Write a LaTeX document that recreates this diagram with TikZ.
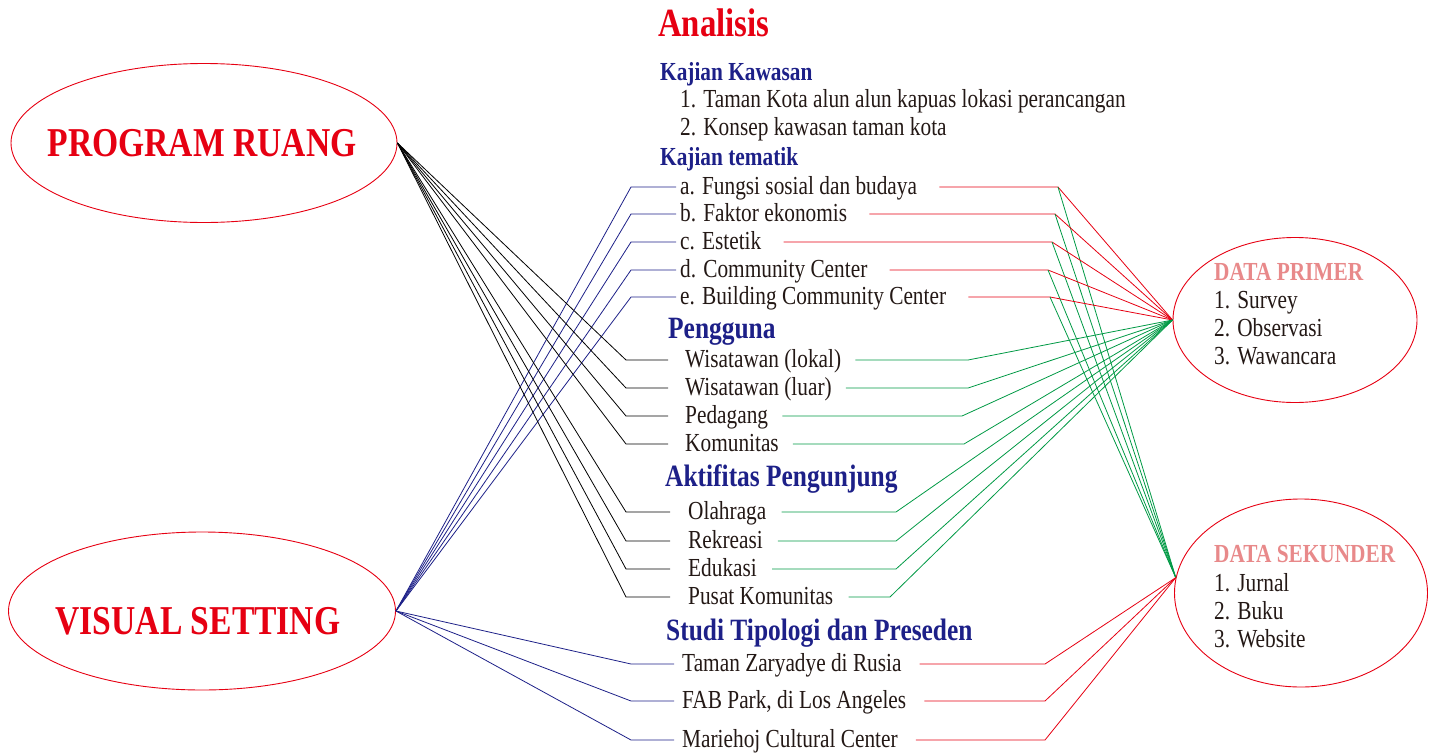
\documentclass[tikz,border=0pt]{standalone}
\usepackage{fontspec}
\setmainfont[FakeStretch=0.82]{Liberation Serif}
\usetikzlibrary{shapes}
\definecolor{merah}{HTML}{E60012}
\definecolor{biru}{HTML}{1D2088}
\definecolor{hijau}{HTML}{009944}
\definecolor{merahmuda}{HTML}{E8898A}
\definecolor{tinta}{HTML}{231815}

\begin{document}
\begin{tikzpicture}[x=1pt,y=-1pt,
	item/.style={anchor=west, text=tinta, inner xsep=4pt, inner ysep=2pt, text height=21pt, text depth=6.5pt, font=\fontsize{26}{28}\selectfont},
	baris/.style={anchor=base west, inner sep=0pt, text=tinta, font=\fontsize{26}{28}\selectfont},
	judul/.style={anchor=base west, inner sep=0pt, text=biru, font=\fontsize{26}{28}\selectfont\bfseries},
	judulbesar/.style={judul, font=\fontsize{31}{34}\selectfont\bfseries},
	oval/.style={ellipse, draw=merah, line width=0.9pt, inner sep=0pt},
	besar/.style={text=merah, inner sep=0pt, font=\fontsize{41}{44}\selectfont\bfseries},
	gh/.style={draw=black, line width=0.8pt},
	gb/.style={draw=biru, line width=0.8pt},
	gm/.style={draw=merah, line width=0.8pt},
	gg/.style={draw=hijau, line width=0.8pt}]

	\useasboundingbox (0,0) rectangle (1435,755);

	% lingkaran
	\node[oval, minimum width=386pt, minimum height=159pt] (pr) at (204,143) {};
	\node[besar] (prt) at (202,143) {PROGRAM RUANG};
	\node[oval, minimum width=387pt, minimum height=158pt] (vs) at (202,611) {};
	\node[besar] (vst) at (198,621) {VISUAL SETTING};
	\node[oval, minimum width=244pt, minimum height=165pt] (prim) at (1295,320) {};
	\node[oval, minimum width=253pt, minimum height=188pt] (sek) at (1301,593) {};

	\node[baris, text=merahmuda, font=\fontsize{26}{28}\selectfont\bfseries] (primj) at (1214,280) {DATA PRIMER};
	\foreach \y/\t [count=\i] in {308/1. Survey, 336/2. Observasi, 364/3. Wawancara}{
		\node[baris] (prim\i) at (1214,\y) {\t};
	}
	\node[baris, text=merahmuda, font=\fontsize{26}{28}\selectfont\bfseries] (sekj) at (1214,562) {DATA SEKUNDER};
	\foreach \y/\t [count=\i] in {591/1. Jurnal, 619/2. Buku, 647/3. Website}{
		\node[baris] (sek\i) at (1214,\y) {\t};
	}

	% judul
	\node[judul, text=merah, font=\fontsize{40}{44}\selectfont\bfseries] (an) at (658,36) {Analisis};
	\node[judul] (kk) at (660,80) {Kajian Kawasan};
	\node[baris] (kk1) at (680,107) {1. Taman Kota alun alun kapuas lokasi perancangan};
	\node[baris] (kk2) at (680,135) {2. Konsep kawasan taman kota};
	\node[judul] (kt) at (660,165) {Kajian tematik};
	\node[judulbesar] (pg) at (668,338) {Pengguna};
	\node[judulbesar] (ak) at (665,486) {Aktifitas Pengunjung};
	\node[judulbesar] (st) at (666,640) {Studi Tipologi dan Preseden};

	% kajian tematik
	\foreach \y/\t/\bx [count=\i] in {187/{a. Fungsi sosial dan budaya}/1058, 214/{b. Faktor ekonomis}/1055, 242/{c. Estetik}/1052, 270/{d. Community Center}/1048, 297/{e. Building Community Center}/1050}{
		\node[item] (tm\i) at (676,\y) {\t};
		\coordinate (tmk\i) at (\bx,\y);
		\draw[gb] (vs.east) -- ([xshift=-45]tm\i.west) -- (tm\i.west);
		\draw[gm] ([xshift=18]tm\i.east) -- (tmk\i) -- (prim.west);
		\draw[gg] (tmk\i) -- (sek.173);
	}

	% pengguna
	\foreach \y/\t/\bx [count=\i] in {360/{Wisatawan (lokal)}/968, 388/{Wisatawan (luar)}/968, 416/Pedagang/962, 444/Komunitas/964}{
		\node[item] (pg\i) at (681,\y) {\t};
		\coordinate (pgk\i) at (\bx,\y);
		\draw[gh] (pr.east) -- ([xshift=-55]pg\i.west) -- ([xshift=-13]pg\i.west);
		\draw[gg] ([xshift=10]pg\i.east) -- (pgk\i) -- (prim.west);
	}

	% aktifitas
	\foreach \y/\t/\bx [count=\i] in {512/Olahraga/896, 541/Rekreasi/896, 569/Edukasi/896, 597/{Pusat Komunitas}/890}{
		\node[item] (ak\i) at (684,\y) {\t};
		\coordinate (akk\i) at (\bx,\y);
		\draw[gh] (pr.east) -- ([xshift=-58]ak\i.west) -- ([xshift=-14]ak\i.west);
		\draw[gg] ([xshift=11]ak\i.east) -- (akk\i) -- (prim.west);
	}

	% studi
	\foreach \y/\t [count=\i] in {664/{Taman Zaryadye di Rusia}, 701/{FAB Park, di Los Angeles}, 740/{Mariehoj Cultural Center}}{
		\node[item] (st\i) at (678,\y) {\t};
		\coordinate (stk\i) at (1045,\y);
		\draw[gb] (vs.east) -- ([xshift=-47]st\i.west) -- ([xshift=-4]st\i.west);
		\draw[gm] ([xshift=14]st\i.east) -- (stk\i) -- (sek.173);
	}

\end{tikzpicture}
\end{document}
